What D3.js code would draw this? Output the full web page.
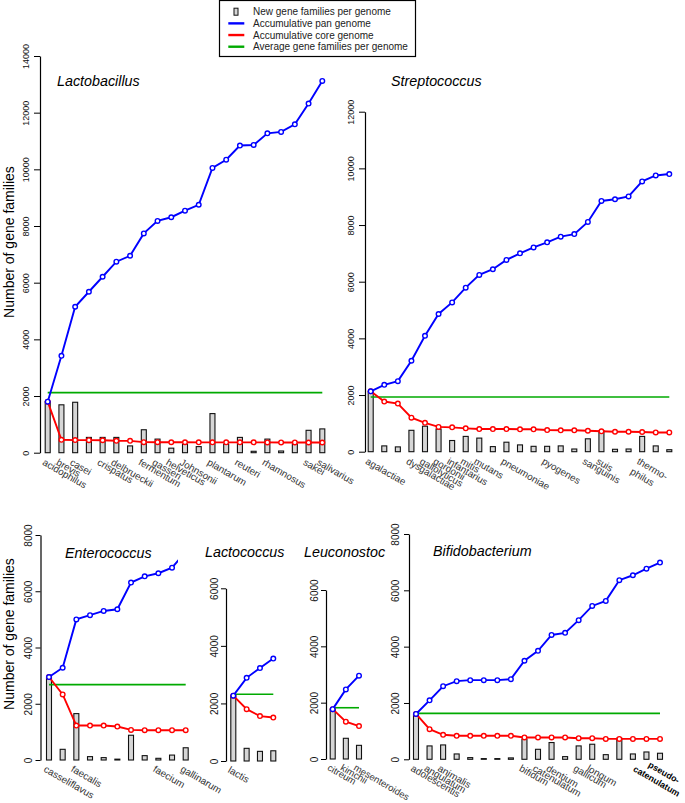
<!DOCTYPE html>
<html><head><meta charset="utf-8">
<script src="https://cdn.jsdelivr.net/npm/d3@7"></script>
<style>
body{margin:0;background:#fff}
svg{display:block}
text{font-family:"Liberation Sans",Arial,Helvetica,sans-serif}
</style>
</head><body>
<svg id="c" width="685" height="803"></svg>
<script>
// ---------------- DATA ----------------
const legendLabels = ["New gene families per genome","Accumulative pan genome","Accumulative core genome","Average gene families per genome"];
const yTitle = "Number of gene families";

const lactobacillusPan  = [1800,3420,5150,5680,6210,6740,6950,7740,8180,8310,8540,8750,10050,10340,10840,10860,11270,11320,11590,12320,13120];
const lactobacillusCore = [1800,455,445,443,440,420,418,372,370,368,368,366,366,365,365,365,364,362,362,360,360];
const lactobacillusNew  = [1800,1690,1780,540,540,540,240,810,480,160,300,215,1380,300,540,50,480,60,300,790,840];
const lactobacillusAvg  = 2120;
const lactobacillusLabels = [["acidophilus",0],["brevis",1],["casei",2],["crispatus",4],["delbrueckii",5],["fermentum",7],["gasseri",8],["helveticus",9],["Johnsonii",10],["plantarum",12],["reuteri",14],["rhamnosus",16],["sakei",19],["salivarius",20]];
const lactobacillusTicks = [0,2000,4000,6000,8000,10000,12000,14000];

const streptococcusPan  = [2130,2360,2490,3210,4090,4860,5270,5790,6240,6440,6770,7000,7210,7390,7590,7680,8110,8850,8910,9010,9540,9750,9800];
const streptococcusCore = [2130,1770,1700,1200,1020,875,860,825,800,800,800,790,790,765,755,755,740,720,705,705,695,680,680];
const streptococcusNew  = [2130,205,170,755,900,800,395,540,480,180,335,240,190,190,205,95,455,740,85,95,540,205,70];
const streptococcusAvg  = 1930;
const streptococcusLabels = [["agalactiae",0],["dysgalactiae",3],["gallolyticus",4],["gordonii",5],["infantarius",6],["mitis",7],["mutans",8],["pneumoniae",10],["pyogenes",13],["sanguinis",16],["suis",17],["thermo-\nphilus",20]];
const streptococcusTicks = [0,2000,4000,6000,8000,10000,12000];

const enterococcusPan  = [2950,3280,5000,5150,5300,5360,6310,6530,6640,6840,7400];
const enterococcusCore = [2950,2330,1225,1225,1225,1190,1070,1060,1060,1060,1060];
const enterococcusNew  = [2950,380,1650,120,85,30,880,155,60,175,435];
const enterococcusAvg  = 2680;
const enterococcusLabels = [["casseliflavus",0],["faecalis",2],["faecium",8],["gallinarum",10]];
const enterococcusTicks = [0,2000,4000,6000,8000];

const lactococcusPan  = [2270,2890,3230,3560];
const lactococcusCore = [2270,1800,1560,1510];
const lactococcusNew  = [2270,440,335,355];
const lactococcusAvg  = 2320;
const lactococcusLabels = [["lactis",0]];
const lactococcusTicks = [0,2000,4000,6000];

const leuconostocPan  = [1770,2470,2960];
const leuconostocCore = [1770,1325,1170];
const leuconostocNew  = [1770,735,485];
const leuconostocAvg  = 1820;
const leuconostocLabels = [["citreum",0],["kimchii",1],["mesenteroides",2]];
const leuconostocTicks = [0,2000,4000,6000];

const bifidobacteriumPan  = [1610,2095,2595,2775,2810,2810,2810,2845,3500,3850,4415,4490,4940,5445,5625,6360,6535,6770,6985];
const bifidobacteriumCore = [1610,1070,870,835,835,835,835,835,775,775,775,775,750,750,725,725,725,725,725];
const bifidobacteriumNew  = [1610,475,510,190,60,25,25,50,715,355,595,95,475,535,165,750,190,260,215];
const bifidobacteriumAvg  = 1630;
const bifidobacteriumLabels = [["adolescentis",0],["angulatum",1],["animalis",2],["bifidum",8],["catenulatum",9],["dentium",10],["gallicum",12],["longum",13],["pseudo-\ncatenulatum",18,true]];
const bifidobacteriumTicks = [0,2000,4000,6000,8000];

// ---------------- LAYOUT ----------------
const panels = [
  {title:"Lactobacillus", pan:lactobacillusPan, core:lactobacillusCore, nw:lactobacillusNew, avg:lactobacillusAvg, labels:lactobacillusLabels, ticks:lactobacillusTicks,
   axisX:40, yBottom:452.7, yTop:56, x0:47.7, x1:322.3, titleX:57, titleY:86, tickLen:6, tickOff:14.5, tickFs:9, labelFs:9.8, labelDy:11.5},
  {title:"Streptococcus", pan:streptococcusPan, core:streptococcusCore, nw:streptococcusNew, avg:streptococcusAvg, labels:streptococcusLabels, ticks:streptococcusTicks,
   axisX:365, yBottom:451.7, yTop:111.7, x0:370.7, x1:669.3, titleX:391, titleY:86, tickLen:6, tickOff:14.5, tickFs:9, labelFs:9.8, labelDy:11.5, lineShift:[0,-0.5]},
  {title:"Enterococcus", pan:enterococcusPan, core:enterococcusCore, nw:enterococcusNew, avg:enterococcusAvg, labels:enterococcusLabels, ticks:enterococcusTicks,
   axisX:40.5, yBottom:760, yTop:535, x0:49, x1:185.7, titleX:65, titleY:557.5, tickLen:5, tickOff:11.5, tickFs:10, labelFs:9.9, labelDy:11, panClip:178},
  {title:"Lactococcus", pan:lactococcusPan, core:lactococcusCore, nw:lactococcusNew, avg:lactococcusAvg, labels:lactococcusLabels, ticks:lactococcusTicks,
   axisX:226, yBottom:761, yTop:588.3, x0:233.3, x1:273.3, titleX:205, titleY:557, tickLen:5, tickOff:11, tickFs:10, labelFs:9.9, labelDy:11},
  {title:"Leuconostoc", pan:leuconostocPan, core:leuconostocCore, nw:leuconostocNew, avg:leuconostocAvg, labels:leuconostocLabels, ticks:leuconostocTicks,
   axisX:326, yBottom:759, yTop:590, x0:332.7, x1:359, titleX:304, titleY:557, tickLen:5, tickOff:11, tickFs:10, labelFs:9.5, labelDy:10.5},
  {title:"Bifidobacterium", pan:bifidobacteriumPan, core:bifidobacteriumCore, nw:bifidobacteriumNew, avg:bifidobacteriumAvg, labels:bifidobacteriumLabels, ticks:bifidobacteriumTicks,
   axisX:409, yBottom:759.3, yTop:534, x0:416, x1:660, titleX:433, titleY:556, tickLen:5, tickOff:13, tickFs:10, labelFs:9.9, labelDy:11, lineShift:[-7.5,-18.5], boldFs:8.9}
];

const C = {pan:"#0000ff", core:"#ff0000", avg:"#00aa00", barFill:"#d6d6d6", barStroke:"#111"};
const svg = d3.select("#c");

panels.forEach((p, pi) => {
  const g = svg.append("g");
  const n = p.pan.length;
  const yMax = p.ticks[p.ticks.length-1];
  const x = d3.scaleLinear().domain([0, n-1]).range([p.x0, p.x1]);
  const y = d3.scaleLinear().domain([0, yMax]).range([p.yBottom, p.yTop]);

  // y axis
  const ax = g.append("g").attr("transform", `translate(${p.axisX},0)`)
    .call(d3.axisLeft(y).tickValues(p.ticks).tickSize(p.tickLen).tickSizeOuter(0).tickFormat(d3.format("d")));
  ax.select(".domain").attr("stroke","#000").attr("stroke-width",1.2);
  ax.selectAll(".tick line").attr("stroke","#000").attr("stroke-width",1);
  ax.selectAll(".tick text")
    .attr("x", null).attr("dy", null).attr("y", null)
    .attr("text-anchor","middle")
    .attr("transform", `translate(${-(p.tickOff-3.2)},0) rotate(-90)`)
    .attr("font-size", p.tickFs).attr("fill","#111")
    .style("font-family", '"Liberation Sans",Arial,Helvetica,sans-serif');

  // bars
  const bw = 5;
  g.selectAll("rect.bar").data(p.nw).join("rect").attr("class","bar")
    .attr("x",(d,i)=>x(i)-bw/2).attr("width",bw)
    .attr("y",d=>y(d)).attr("height",d=>Math.max(0.01, p.yBottom - y(d)))
    .attr("fill",C.barFill).attr("stroke",C.barStroke).attr("stroke-width",1.1);

  // average line
  g.append("line").attr("x1",x(0)).attr("x2",x(n-1)).attr("y1",y(p.avg)).attr("y2",y(p.avg))
    .attr("stroke",C.avg).attr("stroke-width",1.6);

  const line = d3.line().x((d,i)=>x(i)).y(d=>y(d));
  // core
  const cg = g.append("g");
  cg.append("path").attr("d", line(p.core)).attr("fill","none").attr("stroke",C.core).attr("stroke-width",1.9);
  cg.selectAll("circle").data(p.core).join("circle").attr("cx",(d,i)=>x(i)).attr("cy",d=>y(d)).attr("r",2.3)
    .attr("fill","#fff").attr("stroke",C.core).attr("stroke-width",1.4);
  // pan
  const pg = g.append("g");
  if (p.panClip) {
    const id = "clip"+pi;
    svg.append("clipPath").attr("id",id).append("rect").attr("x",0).attr("y",0).attr("width",p.panClip).attr("height",803);
    pg.attr("clip-path",`url(#${id})`);
  }
  pg.append("path").attr("d", line(p.pan)).attr("fill","none").attr("stroke",C.pan).attr("stroke-width",1.9);
  pg.selectAll("circle").data(p.pan).join("circle").attr("cx",(d,i)=>x(i)).attr("cy",d=>y(d)).attr("r",2.3)
    .attr("fill","#fff").attr("stroke",C.pan).attr("stroke-width",1.4);

  // title
  g.append("text").attr("x",p.titleX).attr("y",p.titleY).attr("font-size",14.3).attr("font-style","italic")
    .attr("fill","#000").text(p.title);

  // x labels (rotated)
  p.labels.forEach(([name, idx, bold]) => {
    const lines = name.split("\n");
    const t = g.append("text")
      .attr("transform", `translate(${x(idx)-6},${p.yBottom+p.labelDy}) rotate(30)`)
      .attr("font-size", bold ? p.boldFs : p.labelFs).attr("fill", bold ? "#000" : "#333")
      .attr("font-weight", bold ? "bold" : "normal").attr("text-anchor","start");
    if (lines.length === 1) {
      t.text(name);
    } else {
      lines.forEach((ln,i)=> t.append("tspan").attr("x", p.lineShift[i]).attr("dy", i ? "1.25em" : 0).text(ln));
    }
  });
});

// y titles
svg.append("text").attr("transform","translate(13.5,242) rotate(-90)").attr("text-anchor","middle")
  .attr("font-size",14).attr("fill","#000").text(yTitle);
svg.append("text").attr("transform","translate(13.5,634) rotate(-90)").attr("text-anchor","middle")
  .attr("font-size",14).attr("fill","#000").text(yTitle);

// legend
const lg = svg.append("g");
lg.append("rect").attr("x",219.5).attr("y",0.5).attr("width",196).attr("height",56)
  .attr("fill","#fff").attr("stroke","#000").attr("stroke-width",1.2);
const legendColors = [null, C.pan, C.core, C.avg];
legendLabels.forEach((lab,i)=>{
  const cy = 11.7 + i*11.67;
  if (i===0) {
    lg.append("rect").attr("x",234).attr("y",cy-3.5).attr("width",4).attr("height",7)
      .attr("fill",C.barFill).attr("stroke",C.barStroke).attr("stroke-width",1);
  } else {
    lg.append("line").attr("x1",228.3).attr("x2",244.3).attr("y1",cy).attr("y2",cy)
      .attr("stroke",legendColors[i]).attr("stroke-width",2.4);
  }
  lg.append("text").attr("x",253).attr("y",cy+3.6).attr("font-size",10).attr("fill","#222").text(lab);
});
</script>
</body></html>
